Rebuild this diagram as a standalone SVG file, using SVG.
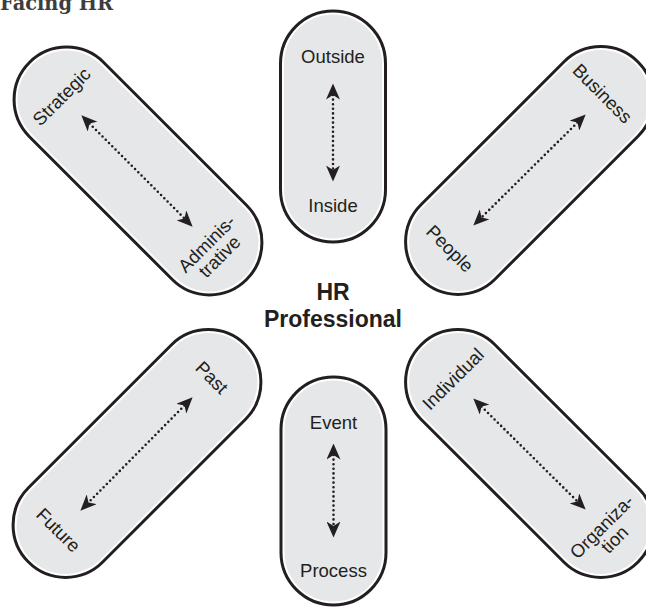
<svg xmlns="http://www.w3.org/2000/svg" width="646" height="609" viewBox="0 0 646 609">
  <style>
    .rim { fill: #ffffff; stroke: #231f20; stroke-width: 3; }
    .body { fill: #e6e7e8; stroke: none; }
    .lbl { font-family: "Liberation Sans", Arial, sans-serif; font-size: 18.5px; fill: #231f20; text-anchor: middle; }
    .hub { font-family: "Liberation Sans", Arial, sans-serif; font-size: 23px; font-weight: bold; fill: #231f20; text-anchor: middle; }
    .title { font-family: "DejaVu Serif", "Liberation Serif", serif; font-size: 21px; font-weight: bold; fill: #3d3d3d; }
    .dots { fill: none; stroke: #231f20; stroke-width: 2.6; stroke-linecap: round; stroke-dasharray: 0 4.6; }
  </style>
  <defs>
    <!-- barbed arrowhead; reference point sits in the notch -->
    <marker id="head" viewBox="0 0 16 14" refX="4.5" refY="7" markerWidth="16" markerHeight="14" markerUnits="userSpaceOnUse" orient="auto-start-reverse">
      <path d="M0,0 L16,7 L0,14 L4.5,7 Z" fill="#231f20"/>
    </marker>
    <!-- long capsule (diagonal), axis along x -->
    <g id="capLong">
      <rect class="rim" x="-153.5" y="-52.5" width="307" height="105" rx="52.5"/>
      <rect class="body" x="-150" y="-49" width="300" height="98" rx="49"/>
    </g>
  </defs>

  <text class="title" x="0" y="10" textLength="113" lengthAdjust="spacingAndGlyphs">Facing HR</text>

  <!-- Outside / Inside -->
  <g id="node-outside-inside">
    <g transform="translate(333,126.5) rotate(90)">
      <rect class="rim" x="-115.5" y="-52.5" width="231" height="105" rx="52.5"/>
      <rect class="body" x="-112" y="-49" width="224" height="98" rx="49"/>
    </g>
    <text class="lbl" x="333" y="63">Outside</text>
    <text class="lbl" x="333" y="212">Inside</text>
  </g>

  <!-- Event / Process -->
  <g id="node-event-process">
    <g transform="translate(333.5,491) rotate(90)">
      <rect class="rim" x="-114" y="-52.5" width="228" height="105" rx="52.5"/>
      <rect class="body" x="-110.5" y="-49" width="221" height="98" rx="49"/>
    </g>
    <text class="lbl" x="333.5" y="429">Event</text>
    <text class="lbl" x="333.5" y="577">Process</text>
  </g>

  <!-- Strategic / Administrative -->
  <g id="node-strategic-administrative">
    <use href="#capLong" transform="translate(138,171) rotate(45)"/>
    <text class="lbl" transform="translate(61.5,96.5) rotate(-45)" dy="0.35em">Strategic</text>
    <text class="lbl" transform="translate(206.6,243.6) rotate(-45)" dy="0.35em">Adminis-</text>
    <text class="lbl" transform="translate(219.4,256.4) rotate(-45)" dy="0.35em">trative</text>
  </g>

  <!-- Business / People -->
  <g id="node-business-people">
    <use href="#capLong" transform="translate(529.5,170.5) rotate(-45)"/>
    <text class="lbl" transform="translate(602.5,93.5) rotate(45)" dy="0.35em">Business</text>
    <text class="lbl" transform="translate(450,248.5) rotate(45)" dy="0.35em">People</text>
  </g>

  <!-- Past / Future -->
  <g id="node-past-future">
    <use href="#capLong" transform="translate(137,453.5) rotate(-45)"/>
    <text class="lbl" transform="translate(212,377.5) rotate(45)" dy="0.35em">Past</text>
    <text class="lbl" transform="translate(58.5,530) rotate(45)" dy="0.35em">Future</text>
  </g>

  <!-- Individual / Organization -->
  <g id="node-individual-organization">
    <use href="#capLong" transform="translate(529.5,453.5) rotate(45)"/>
    <text class="lbl" transform="translate(453,379) rotate(-45)" dy="0.35em">Individual</text>
    <text class="lbl" transform="translate(601.6,526.6) rotate(-45)" dy="0.35em">Organiza-</text>
    <text class="lbl" transform="translate(614.4,539.4) rotate(-45)" dy="0.35em">tion</text>
  </g>

  <!-- centre -->
  <g id="hr-professional">
    <text class="hub" x="333" y="300">HR</text>
    <text class="hub" x="333" y="327">Professional</text>
  </g>

  <!-- two-way dotted arrows -->
  <g id="connectors">
    <line class="dots" x1="333" y1="95" x2="333" y2="170" marker-start="url(#head)" marker-end="url(#head)"/>
    <line class="dots" x1="333.5" y1="455" x2="333.5" y2="526" marker-start="url(#head)" marker-end="url(#head)"/>
    <line class="dots" x1="89.5" y1="123.5" x2="184.5" y2="218.5" marker-start="url(#head)" marker-end="url(#head)"/>
    <line class="dots" x1="577.5" y1="122.5" x2="481.5" y2="217.5" marker-start="url(#head)" marker-end="url(#head)"/>
    <line class="dots" x1="184.5" y1="405.5" x2="88.5" y2="502.5" marker-start="url(#head)" marker-end="url(#head)"/>
    <line class="dots" x1="481.5" y1="406.5" x2="577.5" y2="501.5" marker-start="url(#head)" marker-end="url(#head)"/>
  </g>
</svg>
